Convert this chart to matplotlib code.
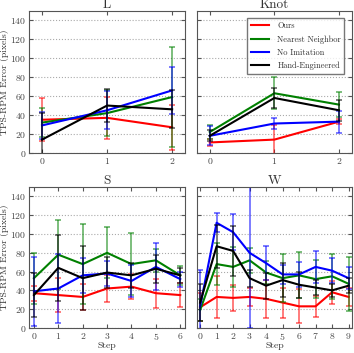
import matplotlib.pyplot as plt
import numpy as np

plt.rcParams['font.family'] = ['cmr10', 'DejaVu Serif']
plt.rcParams['axes.formatter.use_mathtext'] = True

names = ['Ours', 'Nearest Neighbor', 'No Imitation', 'Hand-Engineered']
colors = ['#ff0000', '#008000', '#0000ff', '#000000']

# L
l_ours = [35, 37, 27]
l_ours_err = [23, 22, 24]
l_nn = [32, 42, 59]
l_nn_err = [15, 24, 53]
l_noim = [29, 45, 66]
l_noim_err = [14, 20, 25]
l_hand = [14, 50, 46]
l_hand_err = [28, 17.5, 20]

# Knot
k_ours = [11, 14, 33]
k_ours_err = [4, 15, 3]
k_nn = [22, 63, 51]
k_nn_err = [7, 17, 13.5]
k_noim = [18, 31, 33]
k_noim_err = [10, 6, 11.5]
k_hand = [18, 58, 45]
k_hand_err = [6, 10.5, 11]

# S
s_ours = [37, 35, 33, 42, 44, 37, 35]
s_ours_err = [8, 18, 14, 14, 13, 15.5, 13]
s_nn = [53, 78, 68, 80, 68, 72, 56]
s_nn_err = [27, 37, 43, 27, 33, 12.5, 10]
s_noim = [39, 42, 56, 58, 50, 65, 52]
s_noim_err = [37, 37, 19, 13, 17, 25, 8]
s_hand = [35, 64, 53, 59, 56, 63, 56]
s_hand_err = [23.5, 35, 34, 17, 13, 15, 8]

# W
w_ours = [22, 33, 32, 33, 31, 27, 23, 23, 38, 33]
w_ours_err = [15, 22, 13.5, 10, 20, 16, 18, 11, 12, 10]
w_nn = [19, 68, 65, 72, 59, 53, 56, 52, 55, 47]
w_nn_err = [11.5, 22.5, 21, 13, 12, 25.5, 24.5, 20, 24, 28.5]
w_noim = [23, 112, 102, 80, 69, 57, 57, 65, 61, 53]
w_noim_err = [39, 10, 19, 80, 18, 10, 13, 17, 13, 12]
w_hand = [27, 87, 82, 53, 45, 51, 46, 43, 40, 45]
w_hand_err = [20, 23, 27, 9, 14, 18.5, 14, 8, 7, 8]

panels = [
    ('L', [l_ours, l_nn, l_noim, l_hand], [l_ours_err, l_nn_err, l_noim_err, l_hand_err]),
    ('Knot', [k_ours, k_nn, k_noim, k_hand], [k_ours_err, k_nn_err, k_noim_err, k_hand_err]),
    ('S', [s_ours, s_nn, s_noim, s_hand], [s_ours_err, s_nn_err, s_noim_err, s_hand_err]),
    ('W', [w_ours, w_nn, w_noim, w_hand], [w_ours_err, w_nn_err, w_noim_err, w_hand_err]),
]

rects = [
    [0.082, 0.567, 0.441, 0.402],
    [0.556, 0.567, 0.438, 0.402],
    [0.082, 0.071, 0.441, 0.399],
    [0.556, 0.071, 0.438, 0.399],
]

fig = plt.figure(figsize=(3.54, 3.53), dpi=100)
txt = '#333333'

for i, (title, ys, errs) in enumerate(panels):
    ax = fig.add_axes(rects[i])
    n = len(ys[0])
    x = np.arange(n)
    for y, e, c, name in zip(ys, errs, colors, names):
        ax.errorbar(x, y, yerr=e, color=c, alpha=0.6, lw=0, elinewidth=1.2,
                    capsize=2.5, capthick=1.2)
        ax.plot(x, y, color=c, lw=1.5, label=name)
    ax.set_xlim(-0.2, n - 1 + 0.2)
    ax.set_ylim(0, 150)
    ax.set_xticks(x)
    ax.set_yticks(range(0, 141, 20))
    ax.yaxis.grid(True, linestyle=':', color='#aaaaaa', lw=0.8)
    ax.set_axisbelow(True)
    ax.tick_params(direction='in', top=True, right=True, length=3, pad=2,
                   labelsize=7, colors='#555555', labelcolor='#444444')
    for s in ax.spines.values():
        s.set_color('#555555')
    ax.set_title(title, fontsize=9.5, color=txt, pad=2)
    if i % 2 == 0:
        ax.set_ylabel('TPS-RPM Error (pixels)', fontsize=7, color=txt, labelpad=1)
    else:
        ax.set_yticklabels([])
    if i >= 2:
        ax.set_xlabel('Step', fontsize=7, color=txt, labelpad=0)
    if title == 'Knot':
        leg = ax.legend(loc='upper right', fontsize=6, fancybox=False,
                        handlelength=2.2, borderaxespad=0.9, labelspacing=0.6,
                        handletextpad=1.0)
        leg.get_frame().set_edgecolor('#555555')
        for t in leg.get_texts():
            t.set_color(txt)

fig.savefig('out.png', dpi=100)
